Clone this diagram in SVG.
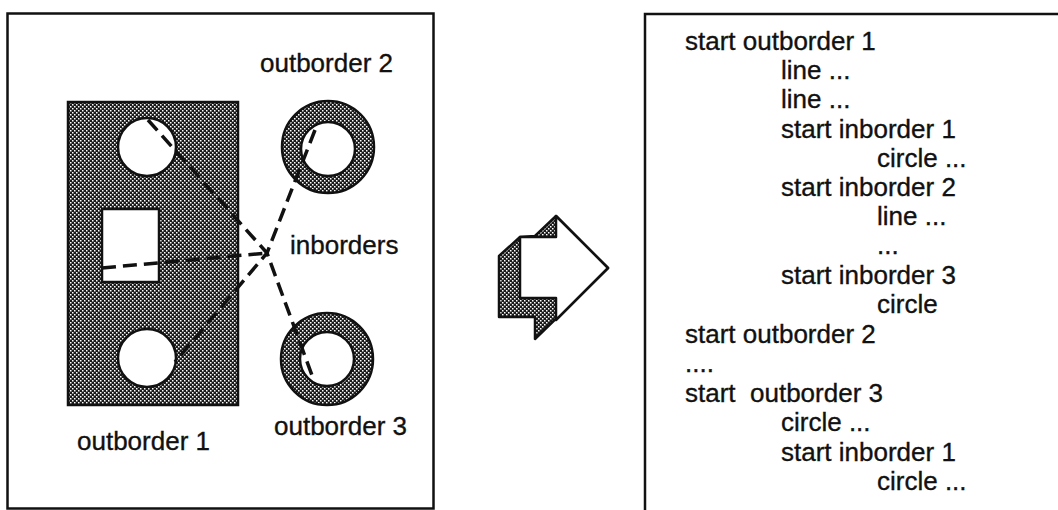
<svg xmlns="http://www.w3.org/2000/svg" width="1058" height="510" viewBox="0 0 1058 510">
<defs>
<pattern id="dots" width="4" height="4" patternUnits="userSpaceOnUse">
<rect width="4" height="4" fill="#1a1a1a"/>
<rect x="0" y="0" width="1.5" height="1.5" fill="#fff"/>
<rect x="2" y="2" width="1.5" height="1.5" fill="#fff"/>
</pattern>
<style>
text{font-family:"Liberation Sans",Arial,sans-serif;font-size:26px;fill:#111;stroke:#111;stroke-width:0.35}
.frame{fill:none;stroke:#111;stroke-width:2.5}
.dark{fill:url(#dots);stroke:#111;stroke-width:2.5}
.hole{fill:#fff;stroke:#111;stroke-width:2.5}
.dash{fill:none;stroke:#111;stroke-width:3.5;stroke-dasharray:14 7}
</style>
</defs>
<rect fill="#fff" width="1058" height="510"/>

<g id="left-frame">
<rect class="frame" x="7.5" y="13.5" width="426" height="495"/>
</g>

<g id="outborder1">
<rect class="dark" x="68" y="102" width="170" height="303"/>
<circle class="hole" cx="147" cy="147" r="29"/>
<circle class="hole" cx="147" cy="358" r="29"/>
<rect class="hole" x="102" y="209" width="57" height="73"/>
<text x="77" y="450">outborder 1</text>
</g>

<g id="outborder2">
<circle class="dark" cx="328" cy="147" r="46"/>
<circle class="hole" cx="328" cy="149" r="27"/>
<text x="260" y="72">outborder 2</text>
</g>

<g id="outborder3">
<circle class="dark" cx="327" cy="359" r="46"/>
<circle class="hole" cx="327" cy="359" r="27"/>
<text x="274" y="435">outborder 3</text>
</g>

<g id="inborders-label">
<text x="290" y="254">inborders</text>
</g>

<g id="connectors">
<polyline class="dash" points="148,120 267,253 313,378"/>
<polyline class="dash" points="315,130 267,253 175,362"/>
<polyline class="dash" points="102,268 267,253"/>
</g>

<g id="arrow">
<polygon fill="url(#dots)" stroke="#111" stroke-width="2.5" stroke-linejoin="round" points="556,216 608,268 535,339 535,317 499,317 499,256 520,237 535,236"/>
<polygon fill="#fff" stroke="#111" stroke-width="2.5" stroke-linejoin="round" points="520,237 556,237 556,216 608,268 556,320 556,298 520,298"/>
</g>

<g id="right-frame">
<polyline class="frame" points="645,510 645,14 1058,14"/>
</g>

<g id="code">
<text x="685" y="50">start outborder 1</text>
<text x="781" y="79">line ...</text>
<text x="781" y="108">line ...</text>
<text x="781" y="138">start inborder 1</text>
<text x="877" y="167">circle ...</text>
<text x="781" y="196">start inborder 2</text>
<text x="877" y="225">line ...</text>
<text x="877" y="254">...</text>
<text x="781" y="284">start inborder 3</text>
<text x="877" y="313">circle</text>
<text x="685" y="343">start outborder 2</text>
<text x="685" y="372">....</text>
<text x="685" y="402" xml:space="preserve">start  outborder 3</text>
<text x="781" y="431">circle ...</text>
<text x="781" y="461">start inborder 1</text>
<text x="877" y="490">circle ...</text>
</g>
</svg>
